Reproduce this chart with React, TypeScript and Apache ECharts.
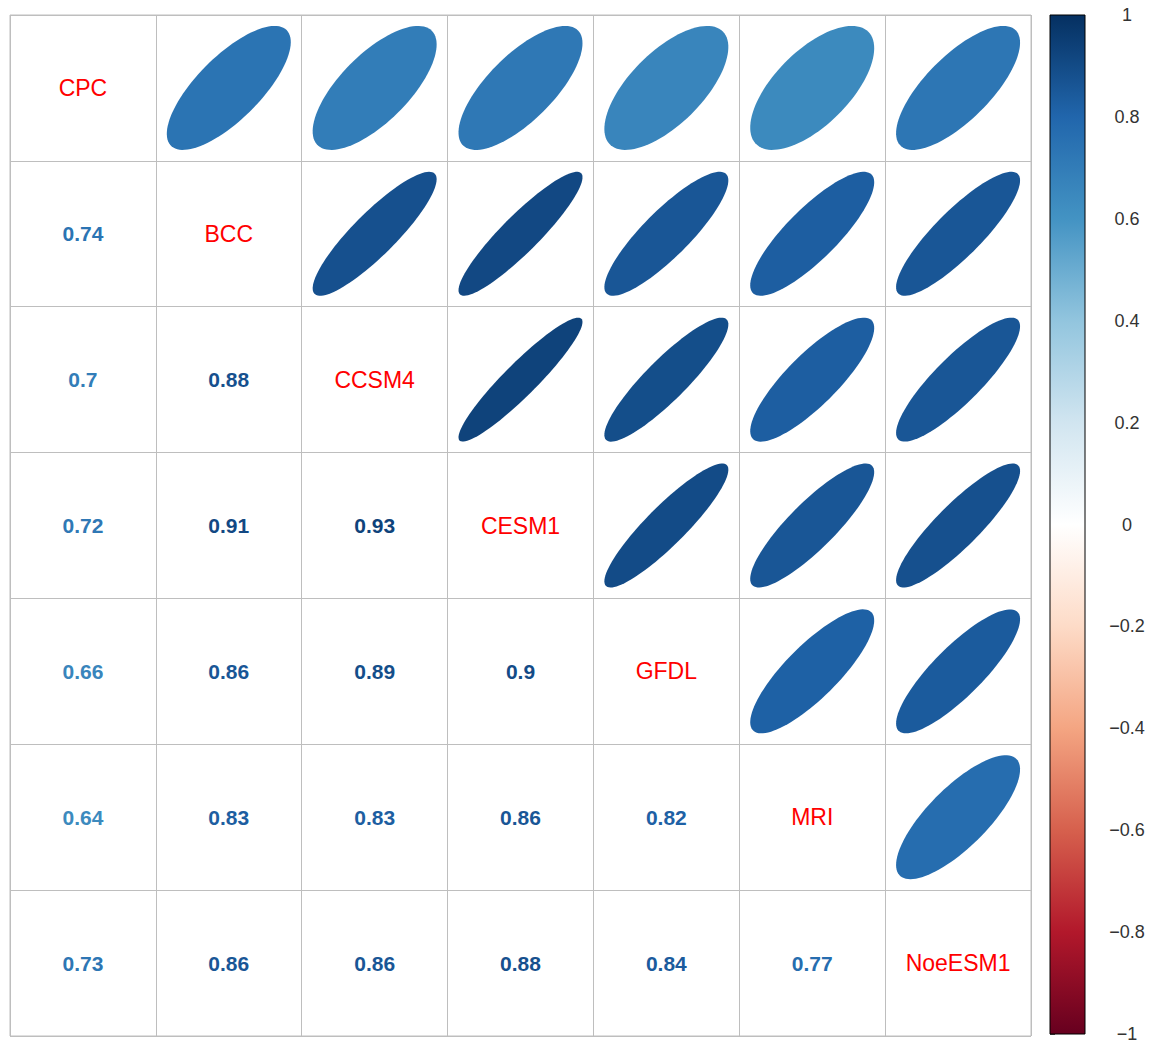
import React, { useEffect, useRef } from "react";
import * as echarts from "echarts";

// Model names (diagonal labels)
const models = ["CPC", "BCC", "CCSM4", "CESM1", "GFDL", "MRI", "NoeESM1"];

// Lower-triangle correlations: each row lists correlation with the preceding models
const corrCPC: number[] = [];
const corrBCC = [0.74];
const corrCCSM4 = [0.7, 0.88];
const corrCESM1 = [0.72, 0.91, 0.93];
const corrGFDL = [0.66, 0.86, 0.89, 0.9];
const corrMRI = [0.64, 0.83, 0.83, 0.86, 0.82];
const corrNoeESM1 = [0.73, 0.86, 0.86, 0.88, 0.84, 0.77];
const lowerRows = [corrCPC, corrBCC, corrCCSM4, corrCESM1, corrGFDL, corrMRI, corrNoeESM1];

// Colour bar range and tick step
const colorbarRange = [-1, 1];
const colorbarStep = 0.2;

// corrplot RdBu palette (from -1 to 1)
const paletteRdBu = [
  "#67001F", "#B2182B", "#D6604D", "#F4A582", "#FDDBC7", "#FFFFFF",
  "#D1E5F0", "#92C5DE", "#4393C3", "#2166AC", "#053061",
];

function hexToRgb(h: string) {
  const n = parseInt(h.slice(1), 16);
  return [(n >> 16) & 255, (n >> 8) & 255, n & 255];
}

function corrColor(v: number) {
  const t = Math.max(0, Math.min(1, (v + 1) / 2)) * (paletteRdBu.length - 1);
  const i = Math.min(paletteRdBu.length - 2, Math.floor(t));
  const f = t - i;
  const a = hexToRgb(paletteRdBu[i]);
  const b = hexToRgb(paletteRdBu[i + 1]);
  const c = a.map((x, k) => Math.round(x + (b[k] - x) * f));
  return `rgb(${c[0]},${c[1]},${c[2]})`;
}

const FONT = '"Liberation Sans", Arial, sans-serif';

export default function App() {
  const ref = useRef<HTMLDivElement>(null);

  useEffect(() => {
    if (!ref.current) return;
    const chart = echarts.init(ref.current, undefined, { renderer: "svg" });

    const lowerData: number[][] = [];
    const upperData: number[][] = [];
    lowerRows.forEach((row, i) => {
      row.forEach((r, j) => {
        lowerData.push([j, i, r]);
        upperData.push([i, j, r]);
      });
    });
    const diagData = models.map((_, i) => [i, i]);

    const gradStops = paletteRdBu
      .slice()
      .reverse()
      .map((c, k) => ({ offset: k / (paletteRdBu.length - 1), color: c }));

    const option: any = {
      animation: false,
      backgroundColor: "#ffffff",
      grid: [
        { left: 10, top: 15, width: 1021, height: 1021, show: true, borderColor: "#BEBEBE", borderWidth: 1, backgroundColor: "transparent" },
        { left: 1050, top: 15, width: 35, height: 1023 },
      ],
      xAxis: [
        {
          type: "category",
          gridIndex: 0,
          data: models,
          axisLine: { show: false },
          axisTick: { show: false },
          axisLabel: { show: false },
          splitLine: { show: true, interval: 0, lineStyle: { color: "#BEBEBE", width: 1 } },
        },
        { type: "value", gridIndex: 1, min: 0, max: 1, show: false },
      ],
      yAxis: [
        {
          type: "category",
          gridIndex: 0,
          data: models,
          inverse: true,
          axisLine: { show: false },
          axisTick: { show: false },
          axisLabel: { show: false },
          splitLine: { show: true, interval: 0, lineStyle: { color: "#BEBEBE", width: 1 } },
        },
        {
          type: "value",
          gridIndex: 1,
          position: "right",
          min: colorbarRange[0],
          max: colorbarRange[1],
          interval: colorbarStep,
          axisLine: { show: false },
          axisTick: { show: true, length: 5, lineStyle: { color: "#555", width: 1 } },
          splitLine: { show: false },
          axisLabel: {
            show: true,
            margin: 42,
            align: "center",
            color: "#333",
            fontSize: 18,
            fontFamily: FONT,
            formatter: (v: number) => {
              const s = String(+v.toFixed(1));
              return s === "0" || s === "-0" ? "0" : s.replace("-", "\u2212");
            },
          },
        },
      ],
      series: [
        {
          type: "custom",
          name: "ellipses",
          xAxisIndex: 0,
          yAxisIndex: 0,
          data: upperData,
          encode: { x: 0, y: 1 },
          renderItem: (params: any, api: any) => {
            const c = api.coord([api.value(0), api.value(1)]);
            const s = api.size([1, 1]);
            const r = api.value(2);
            const d = Math.acos(r);
            const pts: number[][] = [];
            for (let k = 0; k < 100; k++) {
              const t = (2 * Math.PI * k) / 99;
              pts.push([
                c[0] + (0.85 * s[0] / 2) * Math.cos(t + d / 2),
                c[1] - (0.85 * s[1] / 2) * Math.cos(t - d / 2),
              ]);
            }
            return { type: "polygon", shape: { points: pts }, style: { fill: corrColor(r) } };
          },
        },
        {
          type: "custom",
          name: "numbers",
          xAxisIndex: 0,
          yAxisIndex: 0,
          data: lowerData,
          encode: { x: 0, y: 1 },
          renderItem: (params: any, api: any) => {
            const c = api.coord([api.value(0), api.value(1)]);
            const r = api.value(2);
            return {
              type: "text",
              x: c[0],
              y: c[1],
              style: {
                text: String(r),
                fill: corrColor(r),
                fontSize: 21,
                fontWeight: "bold",
                fontFamily: FONT,
                align: "center",
                verticalAlign: "middle",
                textAlign: "center",
                textVerticalAlign: "middle",
              },
            };
          },
        },
        {
          type: "custom",
          name: "labels",
          xAxisIndex: 0,
          yAxisIndex: 0,
          data: diagData,
          encode: { x: 0, y: 1 },
          renderItem: (params: any, api: any) => {
            const c = api.coord([api.value(0), api.value(1)]);
            return {
              type: "text",
              x: c[0],
              y: c[1],
              style: {
                text: models[params.dataIndex],
                fill: "#FF0000",
                fontSize: 23,
                fontFamily: FONT,
                align: "center",
                verticalAlign: "middle",
                textAlign: "center",
                textVerticalAlign: "middle",
              },
            };
          },
        },
        {
          type: "custom",
          name: "colorbar",
          xAxisIndex: 1,
          yAxisIndex: 1,
          data: [[0, colorbarRange[1], 1, colorbarRange[0]]],
          encode: { x: [0, 2], y: [1, 3] },
          renderItem: (params: any, api: any) => {
            const p1 = api.coord([api.value(0), api.value(1)]);
            const p2 = api.coord([api.value(2), api.value(3)]);
            return {
              type: "rect",
              shape: { x: p1[0], y: p1[1], width: p2[0] - p1[0], height: p2[1] - p1[1] },
              style: {
                fill: new echarts.graphic.LinearGradient(0, 0, 0, 1, gradStops),
                stroke: "#000",
                lineWidth: 1,
              },
            };
          },
        },
      ],
    };

    chart.setOption(option);
    return () => chart.dispose();
  }, []);

  return (
    <div
      ref={ref}
      style={{ position: "absolute", left: 0, top: 0, width: 1157, height: 1043, background: "#fff" }}
    />
  );
}
